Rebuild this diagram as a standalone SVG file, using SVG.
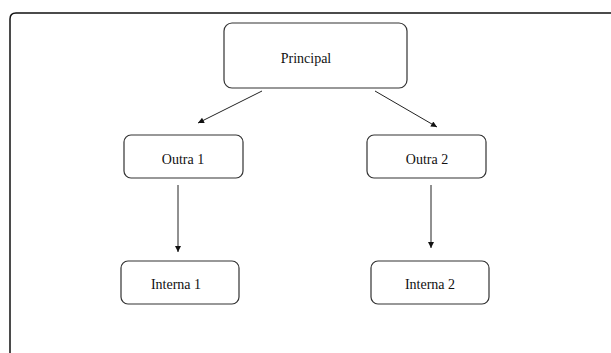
<svg xmlns="http://www.w3.org/2000/svg" width="611" height="353" viewBox="0 0 611 353">
<defs>
<style>
.box{fill:#fff;stroke:#333;stroke-width:1.2}
.lbl{font-family:"Liberation Serif","Times New Roman",serif;font-size:14px;fill:#111;text-anchor:middle}
.edge{stroke:#222;stroke-width:1;fill:none;marker-end:url(#ah)}
</style>
<marker id="ah" viewBox="0 0 10 10" refX="10" refY="5" markerWidth="8" markerHeight="6" markerUnits="userSpaceOnUse" orient="auto">
<path d="M0,0 L10,5 L0,10 Z" fill="#111"/>
</marker>
</defs>
<rect width="611" height="353" fill="#fff"/>
<path d="M10,353 V19 Q10,13 16,13 H611" fill="none" stroke="#111" stroke-width="1.5"/>
<g id="connectors">
<line class="edge" x1="262" y1="91" x2="198" y2="123"/>
<line class="edge" x1="375" y1="91" x2="437" y2="127"/>
<line class="edge" x1="178" y1="185" x2="178" y2="252"/>
<line class="edge" x1="431" y1="185" x2="431" y2="248"/>
</g>
<g id="principal">
<rect class="box" x="224" y="23" width="183" height="65" rx="8"/>
<text class="lbl" x="306" y="63">Principal</text>
</g>
<g id="outra1">
<rect class="box" x="124" y="135" width="119" height="43" rx="7"/>
<text class="lbl" x="183" y="164">Outra 1</text>
</g>
<g id="outra2">
<rect class="box" x="367" y="135" width="119" height="43" rx="7"/>
<text class="lbl" x="427" y="164">Outra 2</text>
</g>
<g id="interna1">
<rect class="box" x="121" y="261" width="118" height="43" rx="7"/>
<text class="lbl" x="176" y="289">Interna 1</text>
</g>
<g id="interna2">
<rect class="box" x="371" y="261" width="118" height="43" rx="7"/>
<text class="lbl" x="430" y="289">Interna 2</text>
</g>
</svg>
